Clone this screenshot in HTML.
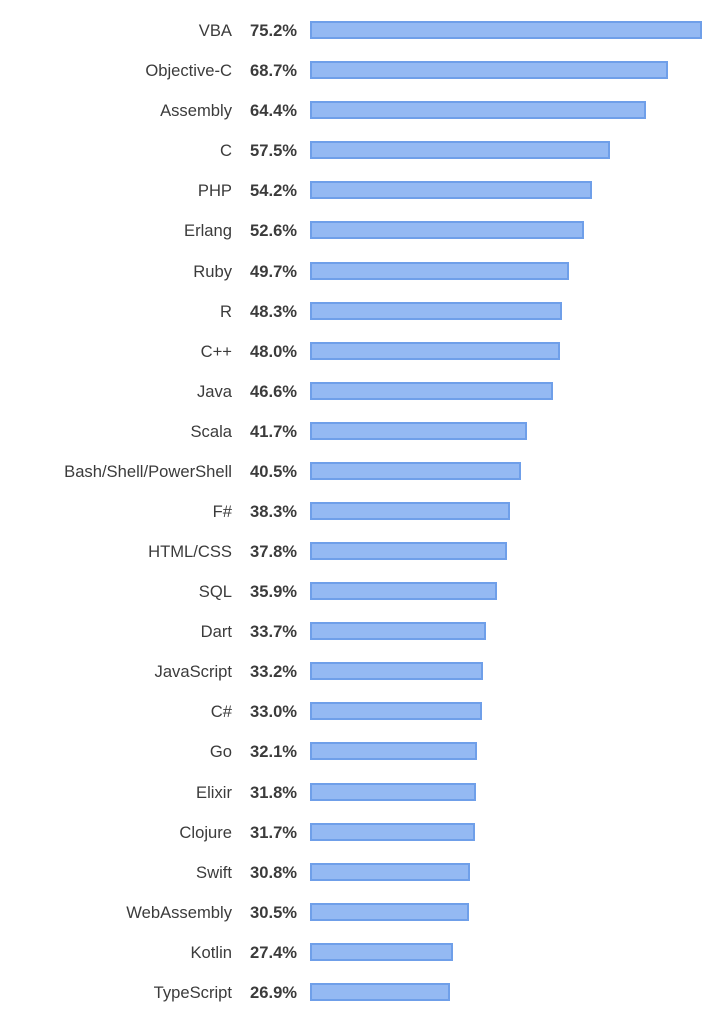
<!DOCTYPE html>
<html><head><style>
body{margin:0;width:725px;height:1024px;background:#fff;font-family:"Liberation Sans",sans-serif;position:relative;overflow:hidden}
.r{position:absolute;left:0;height:18px;width:725px}
.l{position:absolute;right:493px;top:1px;line-height:18px;font-size:16.6px;color:#3b3b3b;white-space:nowrap}
.p{position:absolute;left:250px;top:1px;line-height:18px;font-size:16.6px;font-weight:bold;color:#3b3b3b}
.b{position:absolute;left:310px;top:0;height:14px;background:#94b9f3;border:2px solid #6f9fe9;box-sizing:content-box}
</style></head><body>
<div class="r" style="top:21px"><span class="l">VBA</span><span class="p">75.2%</span><div class="b" style="width:388px"></div></div>
<div class="r" style="top:61px"><span class="l">Objective-C</span><span class="p">68.7%</span><div class="b" style="width:354px"></div></div>
<div class="r" style="top:101px"><span class="l">Assembly</span><span class="p">64.4%</span><div class="b" style="width:332px"></div></div>
<div class="r" style="top:141px"><span class="l">C</span><span class="p">57.5%</span><div class="b" style="width:296px"></div></div>
<div class="r" style="top:181px"><span class="l">PHP</span><span class="p">54.2%</span><div class="b" style="width:278px"></div></div>
<div class="r" style="top:221px"><span class="l">Erlang</span><span class="p">52.6%</span><div class="b" style="width:270px"></div></div>
<div class="r" style="top:262px"><span class="l">Ruby</span><span class="p">49.7%</span><div class="b" style="width:255px"></div></div>
<div class="r" style="top:302px"><span class="l">R</span><span class="p">48.3%</span><div class="b" style="width:248px"></div></div>
<div class="r" style="top:342px"><span class="l">C++</span><span class="p">48.0%</span><div class="b" style="width:246px"></div></div>
<div class="r" style="top:382px"><span class="l">Java</span><span class="p">46.6%</span><div class="b" style="width:239px"></div></div>
<div class="r" style="top:422px"><span class="l">Scala</span><span class="p">41.7%</span><div class="b" style="width:213px"></div></div>
<div class="r" style="top:462px"><span class="l">Bash/Shell/PowerShell</span><span class="p">40.5%</span><div class="b" style="width:207px"></div></div>
<div class="r" style="top:502px"><span class="l">F#</span><span class="p">38.3%</span><div class="b" style="width:196px"></div></div>
<div class="r" style="top:542px"><span class="l">HTML/CSS</span><span class="p">37.8%</span><div class="b" style="width:193px"></div></div>
<div class="r" style="top:582px"><span class="l">SQL</span><span class="p">35.9%</span><div class="b" style="width:183px"></div></div>
<div class="r" style="top:622px"><span class="l">Dart</span><span class="p">33.7%</span><div class="b" style="width:172px"></div></div>
<div class="r" style="top:662px"><span class="l">JavaScript</span><span class="p">33.2%</span><div class="b" style="width:169px"></div></div>
<div class="r" style="top:702px"><span class="l">C#</span><span class="p">33.0%</span><div class="b" style="width:168px"></div></div>
<div class="r" style="top:742px"><span class="l">Go</span><span class="p">32.1%</span><div class="b" style="width:163px"></div></div>
<div class="r" style="top:783px"><span class="l">Elixir</span><span class="p">31.8%</span><div class="b" style="width:162px"></div></div>
<div class="r" style="top:823px"><span class="l">Clojure</span><span class="p">31.7%</span><div class="b" style="width:161px"></div></div>
<div class="r" style="top:863px"><span class="l">Swift</span><span class="p">30.8%</span><div class="b" style="width:156px"></div></div>
<div class="r" style="top:903px"><span class="l">WebAssembly</span><span class="p">30.5%</span><div class="b" style="width:155px"></div></div>
<div class="r" style="top:943px"><span class="l">Kotlin</span><span class="p">27.4%</span><div class="b" style="width:139px"></div></div>
<div class="r" style="top:983px"><span class="l">TypeScript</span><span class="p">26.9%</span><div class="b" style="width:136px"></div></div>
</body></html>
